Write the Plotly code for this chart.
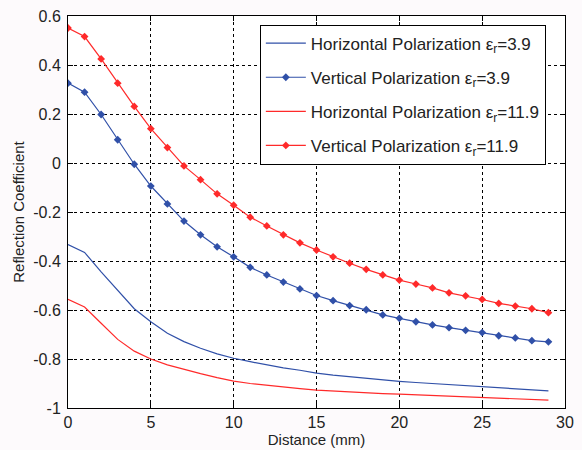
import plotly.graph_objects as go

distance = list(range(30))

h_39 = [-0.333, -0.365, -0.444, -0.520, -0.595, -0.648, -0.695, -0.729, -0.756, -0.779,
        -0.797, -0.811, -0.825, -0.836, -0.846, -0.858, -0.866, -0.873, -0.879, -0.886,
        -0.891, -0.896, -0.900, -0.904, -0.908, -0.912, -0.916, -0.921, -0.925, -0.930]
v_39 = [0.326, 0.289, 0.198, 0.095, -0.005, -0.094, -0.167, -0.237, -0.293, -0.342,
        -0.383, -0.426, -0.457, -0.486, -0.514, -0.541, -0.562, -0.582, -0.599, -0.620,
        -0.634, -0.648, -0.661, -0.672, -0.683, -0.692, -0.705, -0.714, -0.725, -0.730]
h_119 = [-0.556, -0.588, -0.654, -0.720, -0.768, -0.800, -0.824, -0.843, -0.860, -0.876,
         -0.890, -0.900, -0.908, -0.915, -0.921, -0.927, -0.931, -0.934, -0.938, -0.941,
         -0.943, -0.946, -0.948, -0.951, -0.954, -0.957, -0.959, -0.962, -0.965, -0.968]
v_119 = [0.551, 0.516, 0.425, 0.326, 0.231, 0.140, 0.063, -0.012, -0.068, -0.126,
         -0.172, -0.221, -0.257, -0.293, -0.326, -0.355, -0.383, -0.409, -0.434, -0.457,
         -0.478, -0.494, -0.510, -0.530, -0.542, -0.557, -0.573, -0.584, -0.595, -0.611]

names = ["Horizontal Polarization ε<sub>r</sub>=3.9",
         "Vertical Polarization ε<sub>r</sub>=3.9",
         "Horizontal Polarization ε<sub>r</sub>=11.9",
         "Vertical Polarization ε<sub>r</sub>=11.9"]

x_ticks = [0, 5, 10, 15, 20, 25, 30]
x_ticktext = ["0", "5", "10", "15", "20", "25", "30"]
y_ticks = [0.6, 0.4, 0.2, 0, -0.2, -0.4, -0.6, -0.8, -1]
y_ticktext = ["0.6", "0.4", "0.2", "0", "-0.2", "-0.4", "-0.6", "-0.8", "-1"]

blue = "#3050a8"
red = "#ff2a2a"
FONT = "Liberation Sans, Arial, sans-serif"

fig = go.Figure()
series = [(h_39, blue, False), (v_39, blue, True), (h_119, red, False), (v_119, red, True)]
for i, (vals, col, mk) in enumerate(series):
    fig.add_trace(go.Scatter(
        x=distance, y=vals, name=names[i], legendgroup=str(i),
        mode="lines+markers" if mk else "lines",
        line=dict(color=col, width=1.2),
        marker=dict(symbol="diamond", size=6, color=col),
    ))

axis_common = dict(
    showline=True, linecolor="black", linewidth=1, mirror="ticks",
    ticks="inside", ticklen=5, tickcolor="black",
    showgrid=True, gridcolor="black", gridwidth=1, griddash="3px,3px",
    zeroline=False,
    tickfont=dict(family=FONT, size=16, color="#222"),
)

fig.update_xaxes(range=[0, 30], tickvals=x_ticks, ticktext=x_ticktext,
                 title=dict(text="Distance (mm)", standoff=0,
                            font=dict(family=FONT, size=15, color="#222")),
                 ticklabelstandoff=0,
                 **axis_common)
fig.update_yaxes(range=[-1, 0.6], tickvals=y_ticks, ticktext=y_ticktext,
                 title=dict(text="Reflection Coefficient", standoff=4,
                            font=dict(family=FONT, size=15, color="#222")),
                 ticklabelstandoff=3,
                 **axis_common)

fig.update_layout(
    width=582, height=450,
    margin=dict(l=68, r=8, t=15, b=40),
    paper_bgcolor="#fdfafc",
    plot_bgcolor="white",
    showlegend=True,
    legend=dict(
        x=0.386, y=0.978, xanchor="left", yanchor="top",
        bgcolor="white", bordercolor="black", borderwidth=1,
        font=dict(family=FONT, size=17, color="#222"),
        tracegroupgap=9, traceorder="grouped",
        itemwidth=40,
    ),
)

fig.write_html("out.html")
